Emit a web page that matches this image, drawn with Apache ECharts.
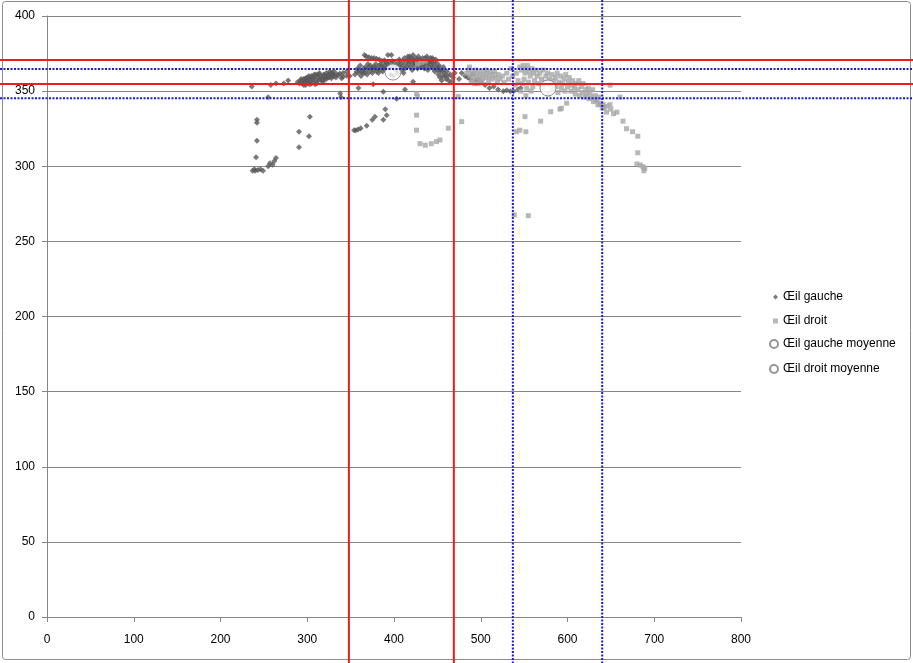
<!DOCTYPE html>
<html>
<head>
<meta charset="utf-8">
<script src="https://cdn.jsdelivr.net/npm/echarts@6/dist/echarts.min.js"></script>
<style>html,body{margin:0;padding:0;background:#fff}#c{width:913px;height:663px}</style>
</head>
<body>
<div id="c"></div>
<script>
// ---- Data ----
var seriesNames = ['Œil gauche', 'Œil droit', 'Œil gauche moyenne', 'Œil droit moyenne'];
var xTicks = [0, 100, 200, 300, 400, 500, 600, 700, 800];
var yTicks = [0, 50, 100, 150, 200, 250, 300, 350, 400];

var leftEye = [
  [236,353],[258,354],[264,355],[273,355],[278,357],
  [242,331],[242,329],[242,317],[241,306],[239,298],[237,297],[240,297],[243,297.5],[246,298],[249,297],
  [255,300],[257,302],[260,301],[262,303.5],[264,305.5],
  [290.5,323],[303,333],[302,320],[290.5,312.6],[255,346],[338,348.5],[339,346],[359,352],
  [289,356],[292,357],[294,355],[296,358],[297,356],[299,357],[300,359],[301,355],[303,357],[304,359],
  [306,358],[307,356],[309,360],[310,357],[312,359],[313,361],[315,358],[316,360],[318,359],[319,361],
  [321,360],[322,362],[324,361],[325,359],[327,362],[328,360],[330,361],[331,363],[298,354],[305,355],
  [311,355],[317,357],[320,358],[326,363],[302,360],[308,361],[314,362],[323,359],[329,362],
  [291,355],[293,358],[295,356.5],[298,358.5],[300,356],[302,357.5],[305,360],[307,358.5],[310,361],
  [313,357],[316,358],[319,360],[322,358],[325,360.5],[328,358.5],[331,360],[334,361],[333,359],
  [303,354.5],[309,354.5],[296,354],[318,356],
  [336,360.7],[337.5,361.8],[341,359.6],[341.2,362],[345.5,363],[345.5,360.3],[339.7,358.5],[349,360],
  [355,361],[357,363],[359,362],[360,364],[362,360],[363,363],[365,365],[366,362],[368,364],[369,361],
  [371,366],[372,363],[374,365],[375,362],[377,364],[378,366],[380,363],[381,365],[383,367],[384,364],
  [386,366],[387,363],[389,367],[390,365],[392,368],[394,366],
  [358,365],[361,367],[364,362],[367,366],[370,368],[373,367],[376,366],[379,368],[382,362],[385,368],[388,365],
  [366,374],[368,373],[371,372.5],[374,372],[377,372],[380,371.5],[383,371],[386,370],[389,370.5],
  [393,374],[397,374],[391,369],[395,369],
  [398,366],[402,364],[399,360],[404,362],[396,361],[398,370],[405,364],[411,362],
  [400,369],[403,367],[405,369],[407,366],[408,368],[410,370],[411,367],[413,365],[414,369],[416,371],
  [417,368],[418,373],[419,366],[420,372],[421,369],[422,371],[423,367],[424,370],[425,372],[426,368],
  [427,371],[428,366],[429,369],[430,371],[431,367],[432,370],[433,372],[434,368],[435,365],[436,370],
  [437,367],[438,371],[439,364],[440,369],[441,366],[442,370],[443,367],[444,369],[445,365],[446,368],
  [447,363],[448,366],[449,369],[450,364],[451,361],[452,367],[453,359],[454,363],[455,357],[456,360],
  [457,366],[458,362],[460,358],[461,363],[463,357],[465,361],[466,356],[468,359],[470,362],
  [406,371],[409,364],[412,372],[415,366],[418,370],[421,364],[424,368],[427,365],[430,369],[433,366],
  [436,372],[439,369],[442,372],[445,371],[448,371],[451,366],[416,373],[422,374],[428,373],[438,373],
  [444,372],[453,364],[456,364],[459,360],[462,360],
  [376,354.5],[387.7,349.6],[403,345],[412.7,351],[422,356.3],
  [354,324],[356,324],[358.5,324.5],[361.6,325.3],[368.5,327],[375,331],[378,333],[387.7,331],[390,338],[391.6,334],
  [475,358],[478,362],[482,360],[485,359],[488,358],[490,361],[494,357],[497,358],[500,356],[505,354],
  [510,352],[515,353],[520,351],[526,350],[530,350.5],[534,350],[538,350],[543,351],[546,352]
];

var rightEye = [
  [427,368],[431,369],[436,370],[427,346.5],[426,348.5],[426,334],[426,324],[430,315],[436,314],[443,315],
  [449,316.4],[453,317.5],[462.6,325.3],[474,346.3],[478,329.7],
  [484,362],[486,364],[487,366],[488,360],[490,363],[491,358],[492,361],[494,364],[495,359],[496,362],
  [498,357],[499,360],[500,363],[502,358],[503,361],[505,364],[506,359],[507,362],[509,357],[510,360],
  [511,363],[513,358],[514,361],[516,363],[517,359],[519,356],[520,361],[522,358],[489,356],[493,355],
  [497,355],[501,356],
  [525,360],[527,356],[530,362],[532,358],[535,365],[537,360],[540,354],[541,362],[543,357],[546,350],
  [548,355],[550,358],[552,347],[553,352],[555,356],[558,350],[560,353],
  [545,366],[547,364],[549,367],[551,362],[552,365],[554,367],[556,363],[557,360],[559,365],[561,362],
  [562,357],[564,364],[565,360],[567,355],[568,362],[570,358],[571,353],[572,364],[574,356],[575,360],
  [577,362],[578,348],[579,358],[580,355],[582,361],[583,351],[584,357],[586,359],[587,353],[588,362],
  [589,349],[590,356],[592,360],[593,352],[594,355],[596,358],[597,350],[598,361],[600,353],[601,356],
  [602,359],[604,350],[605,354],[606,357],[608,352],[609,348],[610,355],[612,351],[613,357],[614,347],
  [616,353],[617,349],[618,355],[620,346],[621,351],[622,348],[624,352],[625,345],[626,349],[628,346],
  [629,351],[630,343],[632,347],[633,344],[635,341],[636,346],[638,342],[640,339],
  [541,323],[545,324],[552,323],[551,333],[569,330],[580.6,336.3],[591.3,338],[599,342],[593,338.6],
  [538.7,267.6],[554.8,267.1],[641,341],[645,336],[649,341],[653,335],[657,336],[660.5,346],[649,354],
  [664,330],[668,325],[675,323],[681,320],[681,309],[680,301.5],[684,300.8],[687,299.7],[688,297],
  [689,298.6],[645,340],[650,338],[633.6,344],[637,341],[642,339]
];

var leftMean = [[398.8, 362.7]];
var rightMean = [[577.5, 352.1]];

var redX = [348, 469];
var redY = [370.7, 354.7];
var blueX = [537, 640];
var blueY = [364.7, 345.3];

// ---- Chart ----
var FONT = '"Liberation Sans", Arial, sans-serif';
var chart = echarts.init(document.getElementById('c'), null, {renderer: 'canvas'});
var axisColor = '#868686';

var legendBase = {
  orient: 'vertical', selectedMode: false, padding: 0,
  textStyle: {fontSize: 12, color: '#000', fontFamily: FONT},
  itemGap: 5
};
function lg(name, top, left, w, icon) {
  return Object.assign({}, legendBase, {data: [{name: name, icon: icon}], top: top, left: left, itemWidth: w, itemHeight: w});
}

var option = {
  animation: false,
  backgroundColor: '#fff',
  grid: {left: 47, right: 172, top: 16, bottom: 46, containLabel: false},
  xAxis: {
    type: 'value', min: 0, max: 800, interval: 100,
    splitLine: {show: false},
    axisLine: {show: true, lineStyle: {color: axisColor, width: 1}},
    axisTick: {show: true, length: 5, inside: false, lineStyle: {color: axisColor}},
    axisLabel: {color: '#000', fontSize: 12, fontFamily: FONT, margin: 17,
      formatter: function (v) { return xTicks.indexOf(v) >= 0 ? String(v) : ''; }}
  },
  yAxis: {
    type: 'value', min: 0, max: 400, interval: 50,
    splitLine: {show: true, lineStyle: {color: axisColor, width: 1}},
    axisLine: {show: true, lineStyle: {color: axisColor, width: 1}},
    axisTick: {show: true, length: 5, inside: false, lineStyle: {color: axisColor}},
    axisLabel: {color: '#000', fontSize: 12, fontFamily: FONT, margin: 12, padding: [4, 0, 0, 0],
      formatter: function (v) { return yTicks.indexOf(v) >= 0 ? String(v) : ''; }}
  },
  legend: [
    lg(seriesNames[0], 291, 773, 5, 'diamond'),
    lg(seriesNames[1], 315, 773, 5, 'rect'),
    lg(seriesNames[2], 338, 769, 8, 'circle'),
    lg(seriesNames[3], 363, 769, 8, 'circle')
  ],
  series: [
    {name: seriesNames[0], type: 'scatter', data: leftEye, symbol: 'diamond', symbolSize: 6,
      itemStyle: {color: '#595959'}},
    {name: seriesNames[1], type: 'scatter', data: rightEye, symbol: 'rect', symbolSize: 5,
      itemStyle: {color: '#a6a6a6'}},
    {name: seriesNames[2], type: 'scatter', data: leftMean, symbol: 'circle', symbolSize: 16,
      itemStyle: {color: '#ffffff', borderColor: '#7a7a7a', borderWidth: 1}},
    {name: seriesNames[3], type: 'scatter', data: rightMean, symbol: 'circle', symbolSize: 16,
      itemStyle: {color: '#ffffff', borderColor: '#7a7a7a', borderWidth: 1}}
  ]
};
chart.setOption(option);

// Reference lines spanning the whole chart, positioned through the axes' scales
var W = 913, H = 663;
var g = [];
g.push({type: 'rect', z: 0, silent: true, shape: {x: 2.5, y: 1.5, width: 908, height: 658, r: 3},
  style: {fill: null, stroke: '#8c8c8c', lineWidth: 1}});
redX.forEach(function (v) {
  var p = chart.convertToPixel({xAxisIndex: 0}, v);
  g.push({type: 'line', z: 100, silent: true, shape: {x1: p, y1: 0, x2: p, y2: H},
    style: {stroke: '#ee1c1c', lineWidth: 2}});
});
redY.forEach(function (v) {
  var p = chart.convertToPixel({yAxisIndex: 0}, v);
  g.push({type: 'line', z: 100, silent: true, shape: {x1: 0, y1: p, x2: W, y2: p},
    style: {stroke: '#ee1c1c', lineWidth: 2}});
});
blueX.forEach(function (v) {
  var p = chart.convertToPixel({xAxisIndex: 0}, v);
  g.push({type: 'line', z: 100, silent: true, shape: {x1: p, y1: 0, x2: p, y2: H},
    style: {stroke: '#1a1ad8', lineWidth: 2, lineDash: [2, 1.5]}});
});
blueY.forEach(function (v) {
  var p = chart.convertToPixel({yAxisIndex: 0}, v);
  g.push({type: 'line', z: 100, silent: true, shape: {x1: 0, y1: p, x2: W, y2: p},
    style: {stroke: '#1a1ad8', lineWidth: 2, lineDash: [2, 1.5]}});
});
chart.setOption({graphic: g});
</script>
</body>
</html>
